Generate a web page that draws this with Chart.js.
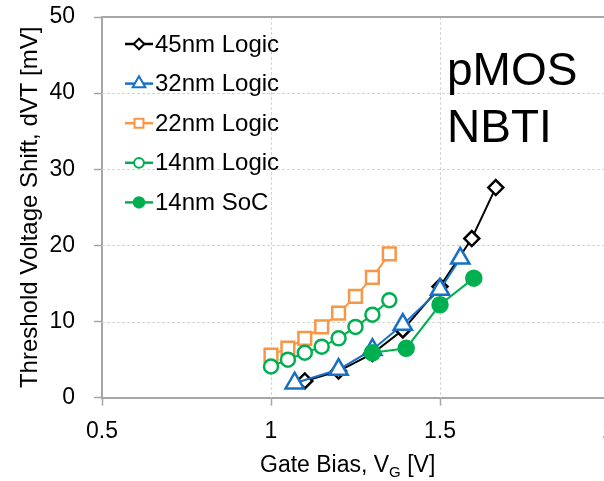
<!DOCTYPE html>
<html><head><meta charset="utf-8">
<script src="https://cdn.jsdelivr.net/npm/chart.js@4/dist/chart.umd.min.js"></script>
<style>html,body{margin:0;padding:0;overflow:hidden;background:#fff;width:604px;height:481px}canvas{display:block}</style>
</head><body><canvas id="c" width="640" height="481"></canvas>
<script>
// ---- data ----
const seriesNames = ['45nm Logic', '32nm Logic', '22nm Logic', '14nm Logic', '14nm SoC'];
const vg45 = [1.10, 1.20, 1.30, 1.39, 1.50, 1.594, 1.665];
const dvt45 = [2.2, 3.5, 5.8, 8.9, 14.6, 20.9, 27.6];
const vg32 = [1.07, 1.20, 1.30, 1.39, 1.50, 1.56];
const dvt32 = [1.9, 3.7, 6.3, 9.6, 14.2, 18.3];
const vg22 = [1.00, 1.05, 1.10, 1.15, 1.20, 1.25, 1.30, 1.35];
const dvt22 = [5.6, 6.5, 7.8, 9.3, 11.1, 13.3, 15.8, 18.9];
const vg14 = [1.00, 1.05, 1.10, 1.15, 1.20, 1.25, 1.30, 1.35];
const dvt14 = [4.1, 5.0, 5.9, 6.7, 7.8, 9.3, 10.9, 12.8];
const vgSoC = [1.30, 1.40, 1.50, 1.60];
const dvtSoC = [5.9, 6.5, 12.2, 15.7];
const xTicks = [0.5, 1, 1.5, 2];
const yTicks = [0, 10, 20, 30, 40, 50];
const xTitleMain = 'Gate Bias, V', xTitleSub = 'G', xTitleEnd = ' [V]';
const yTitle = 'Threshold Voltage Shift, dVT [mV]';
const noteLines = ['pMOS', 'NBTI'];

const FONT = "'Liberation Sans', Arial, sans-serif";
const colors = ['#000000', '#1770C4', '#F79646', '#00B050', '#00B050'];
const styles = ['rectRot', 'triangle', 'rect', 'circle', 'circle'];
const radii = [7.5, 10.5, 9, 7, 7.5];
const filled = [false, false, false, false, true];
const xs = [vg45, vg32, vg22, vg14, vgSoC];
const ys = [dvt45, dvt32, dvt22, dvt14, dvtSoC];

const datasets = seriesNames.map((n, i) => ({
  label: n,
  data: xs[i].map((x, k) => ({x: x, y: ys[i][k]})),
  showLine: true,
  borderColor: colors[i],
  backgroundColor: filled[i] ? colors[i] : '#ffffff',
  pointBackgroundColor: filled[i] ? colors[i] : '#ffffff',
  pointBorderColor: colors[i],
  pointStyle: styles[i],
  pointRadius: radii[i],
  pointBorderWidth: 2.5,
  borderWidth: 2,
  tension: 0,
  order: 5 - i
}));

function shape(ctx, style, x, y, r) {
  ctx.beginPath();
  if (style === 'circle') ctx.arc(x, y, r, 0, Math.PI * 2);
  else if (style === 'rect') { const s = r * Math.SQRT1_2; ctx.rect(x - s, y - s, 2 * s, 2 * s); }
  else if (style === 'rectRot') { ctx.moveTo(x, y - r); ctx.lineTo(x + r, y); ctx.lineTo(x, y + r); ctx.lineTo(x - r, y); ctx.closePath(); }
  else if (style === 'triangle') { const a = Math.PI * 2 / 3; ctx.moveTo(x, y - r); ctx.lineTo(x + Math.sin(a) * r, y - Math.cos(a) * r); ctx.lineTo(x + Math.sin(2 * a) * r, y - Math.cos(2 * a) * r); ctx.closePath(); }
}

const decor = {
  id: 'decor',
  beforeDatasetsDraw(chart) {
    const {ctx, chartArea: a, scales: {x, y}} = chart;
    ctx.save();
    ctx.strokeStyle = '#d4d4d4';
    ctx.lineWidth = 1;
    ctx.setLineDash([3, 2]);
    yTicks.forEach(v => {
      if (v === yTicks[0] || v === yTicks[yTicks.length - 1]) return;
      const p = Math.round(y.getPixelForValue(v)) + 0.5;
      ctx.beginPath(); ctx.moveTo(a.left, p); ctx.lineTo(a.right, p); ctx.stroke();
    });
    xTicks.forEach(v => {
      if (v === xTicks[0]) return;
      const p = Math.round(x.getPixelForValue(v)) + 0.5;
      ctx.beginPath(); ctx.moveTo(p, a.top); ctx.lineTo(p, a.bottom); ctx.stroke();
    });
    ctx.setLineDash([]);
    ctx.strokeStyle = '#a6a6a6';
    ctx.lineWidth = 2;
    const t = Math.round(y.getPixelForValue(yTicks[yTicks.length - 1]));
    ctx.beginPath(); ctx.moveTo(a.left, t); ctx.lineTo(a.right, t); ctx.stroke();
    ctx.restore();
  },
  afterDraw(chart) {
    const {ctx} = chart;
    ctx.save();
    // legend
    seriesNames.forEach((n, i) => {
      const cy = 44 + i * 39.6;
      ctx.strokeStyle = colors[i];
      ctx.lineWidth = 2.5;
      ctx.beginPath(); ctx.moveTo(125, cy); ctx.lineTo(153, cy); ctx.stroke();
      ctx.fillStyle = filled[i] ? colors[i] : '#ffffff';
      ctx.lineWidth = 2;
      shape(ctx, styles[i], 139, cy, radii[i] * 0.7);
      ctx.fill(); ctx.stroke();
      ctx.fillStyle = '#000';
      ctx.font = '24px ' + FONT;
      ctx.textBaseline = 'middle';
      ctx.textAlign = 'left';
      ctx.fillText(n, 155, cy + 1);
    });
    // annotation
    ctx.font = '46px ' + FONT;
    ctx.textBaseline = 'alphabetic';
    ctx.fillStyle = '#000';
    ctx.fillText(noteLines[0], 447, 85);
    ctx.fillText(noteLines[1], 447, 142);
    // x title with subscript
    let xp = 260;
    const base = 472;
    ctx.font = '23px ' + FONT;
    ctx.fillText(xTitleMain, xp, base);
    xp += ctx.measureText(xTitleMain).width;
    ctx.font = '15px ' + FONT;
    ctx.fillText(xTitleSub, xp, base + 5);
    xp += ctx.measureText(xTitleSub).width;
    ctx.font = '23px ' + FONT;
    ctx.fillText(xTitleEnd, xp, base);
    ctx.restore();
  }
};

new Chart(document.getElementById('c'), {
  type: 'scatter',
  data: {datasets},
  options: {
    responsive: false,
    animation: false,
    devicePixelRatio: 1,
    events: [],
    layout: {padding: {left: 0, top: 17, right: 31, bottom: 0}},
    plugins: {legend: {display: false}, tooltip: {enabled: false}},
    scales: {
      x: {
        type: 'linear', min: xTicks[0], max: xTicks[xTicks.length - 1],
        afterBuildTicks: s => { s.ticks = xTicks.map(v => ({value: v})); },
        afterFit: s => { s.height = 83.3; s.paddingLeft = 0; s.paddingRight = 0; },
        grid: {drawOnChartArea: false, drawTicks: true, tickLength: 8, tickColor: '#a6a6a6', tickWidth: 1.5},
        border: {display: true, color: '#a6a6a6', width: 2},
        ticks: {autoSkip: false, maxRotation: 0, padding: 12.5, color: '#000', font: {family: FONT, size: 23},
                callback: v => String(v)}
      },
      y: {
        type: 'linear', min: yTicks[0], max: yTicks[yTicks.length - 1],
        afterBuildTicks: s => { s.ticks = yTicks.map(v => ({value: v})); },
        afterFit: s => { s.width = 102; s.paddingTop = 0; s.paddingBottom = 0; },
        grid: {drawOnChartArea: false, drawTicks: true, tickLength: 8, tickColor: '#a6a6a6', tickWidth: 1.5},
        border: {display: true, color: '#a6a6a6', width: 2},
        ticks: {autoSkip: false, padding: 19, color: '#000', font: {family: FONT, size: 23},
                callback: v => String(v)},
        title: {display: true, text: yTitle, color: '#000', font: {family: FONT, size: 24}, padding: {top: 15.6, bottom: 0}}
      }
    }
  },
  plugins: [decor]
});
</script></body></html>
